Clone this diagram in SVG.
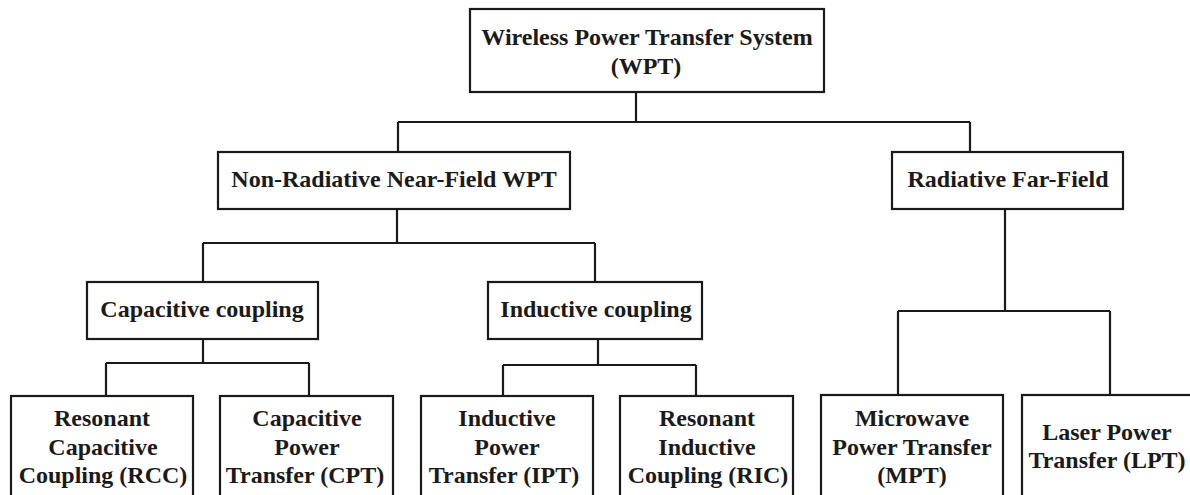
<svg xmlns="http://www.w3.org/2000/svg" width="1190" height="495" viewBox="0 0 1190 495">
<style>
.box{fill:#fff;stroke:#1a1a1a;stroke-width:2.2}
.t{font-family:"Liberation Serif","Times New Roman",serif;font-weight:bold;font-size:24px;fill:#1a1a1a;text-anchor:middle}
.c{fill:none;stroke:#1a1a1a;stroke-width:2.2}
</style>
<rect width="1190" height="495" fill="#fff"/>
<g id="connectors">
<path class="c" d="M636 92V122M398 122H970M398 122V152M970 122V152"/>
<path class="c" d="M397 209V243M203 243H595M203 243V282M595 243V282"/>
<path class="c" d="M1005 209V311M898 311H1110M898 311V395M1110 311V395"/>
<path class="c" d="M203 339V363M106 363H309M106 363V396M309 363V396"/>
<path class="c" d="M598 339V365M503 365H696M503 365V396M696 365V396"/>
</g>
<g id="wpt"><rect class="box" x="470" y="9" width="354" height="83"/>
<text class="t" x="647" y="45">Wireless Power Transfer System</text><text class="t" x="646" y="74">(WPT)</text></g>
<g id="near"><rect class="box" x="218" y="152" width="352" height="57"/>
<text class="t" x="394" y="187">Non-Radiative Near-Field WPT</text></g>
<g id="far"><rect class="box" x="892" y="152" width="231" height="57"/>
<text class="t" x="1008" y="187">Radiative Far-Field</text></g>
<g id="cap"><rect class="box" x="87" y="282" width="231" height="57"/>
<text class="t" x="202" y="317">Capacitive coupling</text></g>
<g id="ind"><rect class="box" x="488" y="282" width="214" height="57"/>
<text class="t" x="596" y="317">Inductive coupling</text></g>
<g id="rcc"><rect class="box" x="11" y="396" width="182" height="110"/>
<text class="t" x="102" y="426">Resonant</text><text class="t" x="103" y="455">Capacitive</text><text class="t" x="103" y="483">Coupling (RCC)</text></g>
<g id="cpt"><rect class="box" x="220" y="396" width="173" height="110"/>
<text class="t" x="307" y="426">Capacitive</text><text class="t" x="307" y="455">Power</text><text class="t" x="305" y="483">Transfer (CPT)</text></g>
<g id="ipt"><rect class="box" x="421" y="396" width="172" height="110"/>
<text class="t" x="507" y="426">Inductive</text><text class="t" x="507" y="455">Power</text><text class="t" x="504" y="483">Transfer (IPT)</text></g>
<g id="ric"><rect class="box" x="620" y="396" width="173" height="110"/>
<text class="t" x="707" y="426">Resonant</text><text class="t" x="707" y="455">Inductive</text><text class="t" x="708" y="483">Coupling (RIC)</text></g>
<g id="mpt"><rect class="box" x="821" y="395" width="182" height="110"/>
<text class="t" x="912" y="426">Microwave</text><text class="t" x="912" y="455">Power Transfer</text><text class="t" x="912" y="483">(MPT)</text></g>
<g id="lpt"><rect class="box" x="1022" y="395" width="170" height="110"/>
<text class="t" x="1107" y="440">Laser Power</text><text class="t" x="1107" y="468">Transfer (LPT)</text></g>
</svg>
